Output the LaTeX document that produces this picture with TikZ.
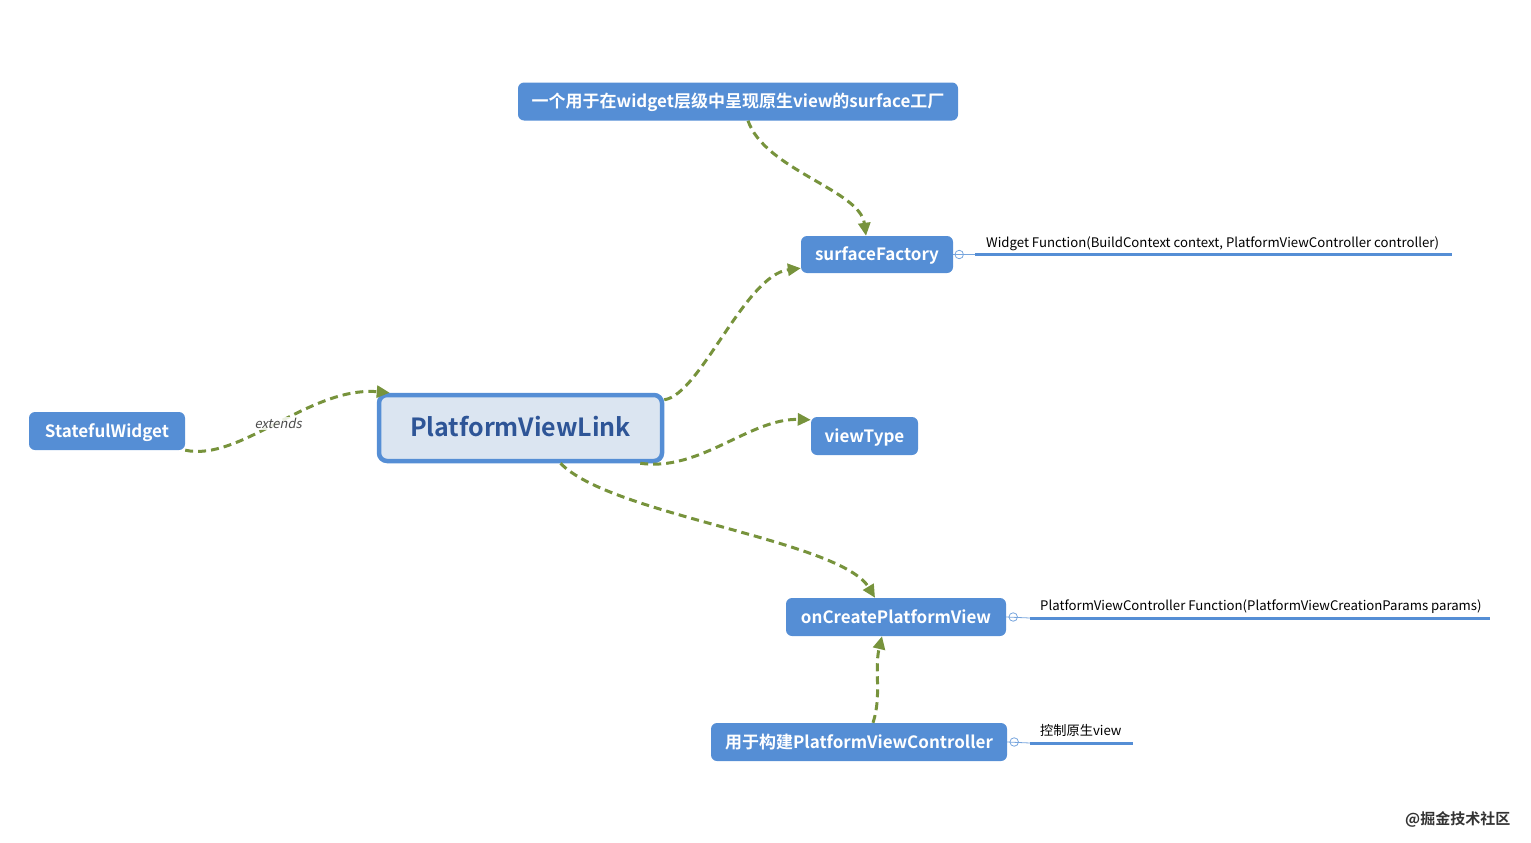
\documentclass[tikz,border=0pt]{standalone}
\usepackage{fontspec}
\setmainfont{Noto Sans CJK SC}[BoldFont={Noto Sans CJK SC Bold}]
\newfontfamily\slantfont{Noto Sans CJK SC}[FakeSlant=0.2]
\usetikzlibrary{arrows.meta}
\definecolor{nodeblue}{HTML}{558ED5}
\definecolor{pvlfill}{HTML}{DBE5F1}
\definecolor{pvltext}{HTML}{2E5597}
\definecolor{linkgreen}{HTML}{77933C}
\tikzset{
  box/.style={fill=nodeblue, rounded corners=6pt, text=white, inner sep=0pt,
    font=\bfseries\fontsize{17}{20}\selectfont, minimum height=38pt,
    text height=13pt, text depth=1pt},
  mainbox/.style={draw=nodeblue, line width=4.5pt, fill=pvlfill, rounded corners=8pt,
    text=pvltext, inner sep=0pt, font=\bfseries\fontsize{25}{30}\selectfont,
    minimum width=283pt, minimum height=66pt, text height=19pt, text depth=2pt},
  link/.style={draw=linkgreen, line width=3pt, dash pattern=on 8pt off 5pt,
    -{Triangle[length=13pt,width=12pt]}},
  notetext/.style={font=\fontsize{13.2}{15}\selectfont, anchor=base west, inner sep=0pt},
  noteline/.style={draw=nodeblue, line width=3pt},
  notethin/.style={draw=nodeblue!80, line width=0.8pt},
  knob/.style={circle, draw=nodeblue!80, line width=0.8pt, minimum size=8.5pt, inner sep=0pt},
}
\begin{document}
\begin{tikzpicture}[x=1pt,y=-1pt]
\useasboundingbox (0,0) rectangle (1531,843);
% nodes
\node[box, minimum width=440pt] (top) at (738,101.5) {一个用于在widget层级中呈现原生view的surface工厂};
\node[box, minimum width=152pt, minimum height=37pt] (sf) at (877,254.5) {surfaceFactory};
\node[mainbox] (pvl) at (520.5,428) {PlatformViewLink};
\node[box, minimum width=156pt] (sw) at (107,431) {StatefulWidget};
\node[box, minimum width=107pt] (vt) at (864.5,436) {viewType};
\node[box, minimum width=220pt] (oc) at (896,617) {onCreatePlatformView};
\node[box, minimum width=296pt] (bc) at (859,742) {用于构建PlatformViewController};
% connectors
\draw[link] ([xshift=10pt]top.south) .. controls (765,170) and (860,190) .. ([xshift=-11pt]sf.north);
\draw[link] ([yshift=-7pt]pvl.north east) .. controls (700,395) and (745,275) .. ([yshift=5pt]sf.south west);
\draw[link] ([xshift=-24pt]pvl.south east) .. controls (700,472) and (750,418) .. ([yshift=-3pt]vt.north west);
\draw[link] ([xshift=40pt]pvl.south) .. controls (610,515) and (840,540) .. ([xshift=-21pt]oc.north);
\draw[link] ([xshift=14pt]bc.north) .. controls (882,695) and (874,670) .. ([xshift=-14pt]oc.south);
\draw[link] (sw.south east) .. controls (240,462) and (310,386) .. ([xshift=13pt]pvl.north west)
  node[pos=0.5, fill=white, fill opacity=0.85, text opacity=1, text=black!70, inner sep=1pt,
       font=\slantfont\fontsize{13}{15}\selectfont] (ext) {extends};
% notes
\coordinate (sfk) at ([xshift=6pt]sf.east);
\coordinate (sfl) at (975,254.5);
\coordinate (sfe) at (1452,254.5);
\draw[notethin] (sf.east) -- (sfl);
\node[knob] (sfknob) at (sfk) {};
\draw[noteline] (sfl) -- (sfe);
\node[notetext] (sfnote) at (986,247) {Widget Function(BuildContext context, PlatformViewController controller)};

\coordinate (ock) at ([xshift=7pt]oc.east);
\coordinate (ocl) at (1030,618);
\coordinate (oce) at (1490,618);
\draw[notethin] (oc.east) -- (ocl);
\node[knob] (ocknob) at (ock) {};
\draw[noteline] (ocl) -- (oce);
\node[notetext] (ocnote) at (1040,610) {PlatformViewController Function(PlatformViewCreationParams params)};

\coordinate (bck) at ([xshift=7pt]bc.east);
\coordinate (bcl) at (1030,743);
\coordinate (bce) at (1133,743);
\draw[notethin] (bc.east) -- (bcl);
\node[knob] (bcknob) at (bck) {};
\draw[noteline] (bcl) -- (bce);
\node[notetext] (bcnote) at (1040,735) {控制原生view};

\node[anchor=base west, inner sep=0pt, text=black!80, font=\bfseries\fontsize{15}{17}\selectfont] (wm) at (1405,824) {@掘金技术社区};
\end{tikzpicture}
\end{document}
